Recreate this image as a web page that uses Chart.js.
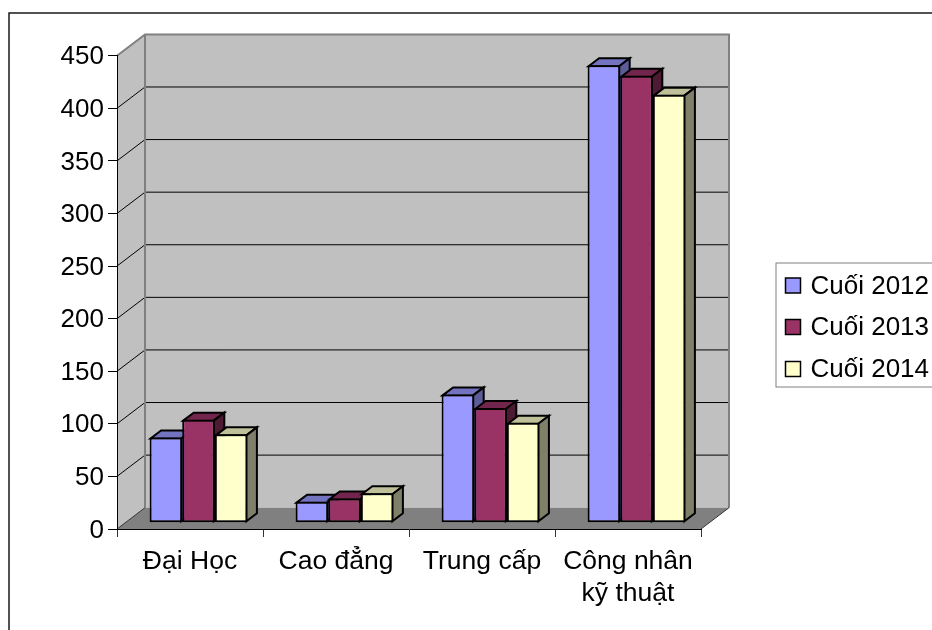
<!DOCTYPE html>
<html>
<head>
<meta charset="utf-8">
<style>
  html, body { margin: 0; padding: 0; background: #fff; overflow: hidden; }
  canvas { display: block; }
</style>
<script src="https://cdn.jsdelivr.net/npm/chart.js@4"></script>
</head>
<body>
<canvas id="chart" width="932" height="630"></canvas>
<script>
const categories = ["Đại Học", "Cao đẳng", "Trung cấp", ["Công nhân", "kỹ thuật"]];
const seriesNames = ["Cuối 2012", "Cuối 2013", "Cuối 2014"];
const values2012 = [81, 20, 122, 435];
const values2013 = [98, 23, 109, 425];
const values2014 = [84, 28, 95, 407];
const seriesValues = [values2012, values2013, values2014];

const faceColors = ["#9999FF", "#993366", "#FFFFCC"];
const topColors = ["#7373BF", "#73264D", "#BFBF99"];
const sideColors = ["#5C5C99", "#4D1A33", "#80806A"];

const FONT = "Liberation Sans";
const FONT_SIZE = 26;

// how far the back wall and the bars sit behind the front axis
const wall = { dx: 28, dy: -21.3 };
const barShift = { dx: 8.5, dy: -6.3 };
const barDepth = { dx: 10.5, dy: -8 };
const BAR_BORDER = 2;

function poly(ctx, pts, fill, stroke, lineWidth) {
  ctx.beginPath();
  pts.forEach((p, i) => (i ? ctx.lineTo(p[0], p[1]) : ctx.moveTo(p[0], p[1])));
  ctx.closePath();
  if (fill) {
    ctx.fillStyle = fill;
    ctx.fill();
  }
  if (stroke) {
    ctx.strokeStyle = stroke;
    ctx.lineWidth = lineWidth;
    ctx.stroke();
  }
}

const frame3d = {
  id: "frame3d",
  beforeDraw(chart) {
    const ctx = chart.ctx;
    const { left, right, top, bottom } = chart.chartArea;
    const y = chart.scales.y;
    const bx = wall.dx, by = wall.dy;

    ctx.save();
    // outer frame, runs off the right and bottom of the picture
    ctx.strokeStyle = "#1a1a1a";
    ctx.lineWidth = 1.5;
    ctx.strokeRect(9, 13, 1000, 1000);

    // left wall, back wall, floor
    poly(ctx, [[left, top], [left + bx, top + by], [left + bx, bottom + by], [left, bottom]], "#C0C0C0");
    poly(ctx, [[left + bx, top + by], [right + bx, top + by], [right + bx, bottom + by], [left + bx, bottom + by]], "#C0C0C0");
    poly(ctx, [[left, bottom], [left + bx, bottom + by], [right + bx, bottom + by], [right, bottom]], "#808080");

    // gridlines, from the scale's ticks
    ctx.strokeStyle = "#000";
    ctx.lineWidth = 1;
    y.ticks.forEach((t) => {
      if (t.value === y.min || t.value === y.max) return;
      const py = y.getPixelForValue(t.value);
      ctx.beginPath();
      ctx.moveTo(left, py);
      ctx.lineTo(left + bx, py + by);
      ctx.lineTo(right + bx, py + by);
      ctx.stroke();
    });

    // wall edges
    ctx.strokeStyle = "#808080";
    ctx.lineWidth = 2;
    ctx.beginPath();
    ctx.moveTo(left, top);
    ctx.lineTo(left + bx, top + by);
    ctx.lineTo(right + bx, top + by);
    ctx.lineTo(right + bx, bottom + by);
    ctx.moveTo(left + bx, top + by);
    ctx.lineTo(left + bx, bottom + by);
    ctx.stroke();

    ctx.strokeStyle = "#333";
    ctx.lineWidth = 1;
    ctx.beginPath();
    ctx.moveTo(left, bottom);
    ctx.lineTo(left + bx, bottom + by);
    ctx.moveTo(right, bottom);
    ctx.lineTo(right + bx, bottom + by);
    ctx.stroke();
    ctx.restore();
  },
  // bars must paint left to right so each front covers its neighbour's side,
  // Chart.js would paint them the other way round
  beforeDatasetDraw() {
    return false;
  },
  beforeDatasetsDraw(chart) {
    const ctx = chart.ctx;
    const dx = barDepth.dx, dy = barDepth.dy;
    const inset = BAR_BORDER / 2;
    ctx.save();
    ctx.translate(barShift.dx, barShift.dy);
    seriesNames.forEach((name, i) => {
      const meta = chart.getDatasetMeta(i);
      meta.data.forEach((bar) => {
        const l = bar.x - bar.width / 2 + inset;
        const r = bar.x + bar.width / 2 - inset;
        const t = bar.y + inset;
        const b = bar.base - inset;
        poly(ctx, [[l, t], [l + dx, t + dy], [r + dx, t + dy], [r, t]], topColors[i], "#000", BAR_BORDER);
        poly(ctx, [[r, t], [r + dx, t + dy], [r + dx, b + dy], [r, b]], sideColors[i], "#000", BAR_BORDER);
      });
      meta.controller.draw();
    });
    ctx.restore();
  },
  afterDraw(chart) {
    const ctx = chart.ctx;
    ctx.save();
    // legend box runs off the right of the picture
    ctx.strokeStyle = "#808080";
    ctx.lineWidth = 1;
    ctx.fillStyle = "#fff";
    ctx.fillRect(776, 263, 200, 124);
    ctx.strokeRect(776, 263, 200, 124);
    ctx.font = FONT_SIZE + "px '" + FONT + "'";
    ctx.textBaseline = "middle";
    const rows = [285.5, 327, 369];
    seriesNames.forEach((name, i) => {
      ctx.fillStyle = faceColors[i];
      ctx.fillRect(785.5, rows[i] - 7.5, 15, 15);
      ctx.strokeStyle = "#000";
      ctx.lineWidth = 1.5;
      ctx.strokeRect(785.5, rows[i] - 7.5, 15, 15);
      ctx.fillStyle = "#000";
      ctx.fillText(name, 810.5, rows[i] + 1);
    });
    ctx.restore();
  },
};

new Chart(document.getElementById("chart"), {
  type: "bar",
  data: {
    labels: categories,
    datasets: seriesNames.map((name, i) => ({
      label: name,
      data: seriesValues[i],
      backgroundColor: faceColors[i],
      borderColor: "#000",
      borderWidth: BAR_BORDER,
      borderSkipped: false,
      inflateAmount: 0,
      categoryPercentage: 0.67,
      barPercentage: 1,
    })),
  },
  options: {
    responsive: false,
    animation: false,
    devicePixelRatio: 1,
    layout: { autoPadding: false, padding: { left: 0, top: 55.7, right: 231, bottom: 0 } },
    plugins: { legend: { display: false }, tooltip: { enabled: false } },
    scales: {
      x: {
        afterFit(scale) { scale.height = 101; },
        grid: { offset: true, drawOnChartArea: false, color: "#333", tickLength: 8, tickWidth: 1 },
        border: { display: true, color: "#000", width: 1 },
        ticks: {
          maxRotation: 0,
          autoSkip: false,
          color: "#000",
          padding: 9,
          font: { family: FONT, size: 26.5, lineHeight: 1.21 },
        },
      },
      y: {
        min: 0,
        max: 450,
        afterFit(scale) { scale.width = 117; },
        grid: { drawOnChartArea: false, color: "#000", tickLength: 9, tickWidth: 1 },
        border: { display: true, color: "#000", width: 1 },
        ticks: {
          stepSize: 50,
          color: "#000",
          padding: 4,
          labelOffset: 1.5,
          font: { family: FONT, size: FONT_SIZE },
        },
      },
    },
  },
  plugins: [frame3d],
});
</script>
</body>
</html>
